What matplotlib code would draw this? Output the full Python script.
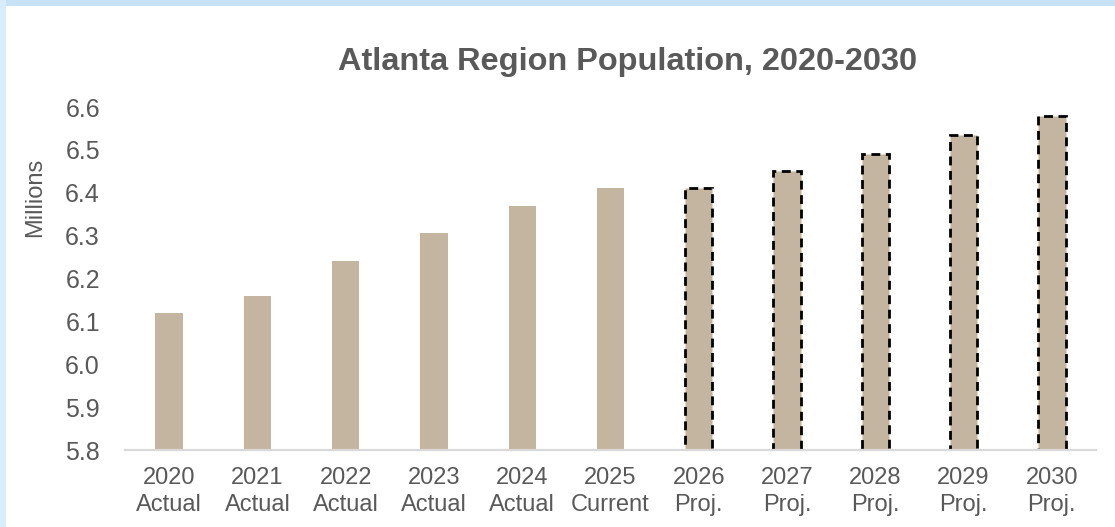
import matplotlib
matplotlib.use("Agg")
import matplotlib.pyplot as plt
from matplotlib.patches import Rectangle

# Population by year (millions)
years = ["2020", "2021", "2022", "2023", "2024", "2025",
         "2026", "2027", "2028", "2029", "2030"]
status = ["Actual", "Actual", "Actual", "Actual", "Actual", "Current",
          "Proj.", "Proj.", "Proj.", "Proj.", "Proj."]
population = [6.12, 6.16, 6.24, 6.305, 6.37, 6.41,
              6.41, 6.45, 6.49, 6.535, 6.58]
projected = [False] * 6 + [True] * 5
y_ticks = [5.8, 5.9, 6.0, 6.1, 6.2, 6.3, 6.4, 6.5, 6.6]

plt.rcParams["font.family"] = ["Liberation Sans", "DejaVu Sans"]
text_color = "#595959"
bar_color = "#C4B5A0"

fig = plt.figure(figsize=(11.15, 5.27), dpi=100)
fig.patch.set_facecolor("white")

# light blue frame along the top and left edges
fig.patches.append(Rectangle((0, 1 - 6 / 527), 1, 6 / 527, transform=fig.transFigure,
                             facecolor="#C7E2F4", edgecolor="none", zorder=0))
fig.patches.append(Rectangle((0, 0), 6 / 1115, 1, transform=fig.transFigure,
                             facecolor="#D8ECF9", edgecolor="none", zorder=0))

ax = fig.add_axes([125 / 1115, 1 - 450 / 527, (1096 - 125) / 1115, (450 - 107) / 527])

x = list(range(len(years)))
for xi, val, proj in zip(x, population, projected):
    bottom = y_ticks[0]
    if proj:
        ax.bar(xi, val - bottom, bottom=bottom, width=0.31, color=bar_color,
               edgecolor="black", linewidth=2.0, linestyle=(0, (3.2, 2.0)),
               zorder=2)
    else:
        ax.bar(xi, val - bottom, bottom=bottom, width=0.31, color=bar_color,
               edgecolor="none", zorder=2)

ax.set_xlim(-0.5, len(years) - 0.5)
ax.set_ylim(y_ticks[0], y_ticks[-1])
ax.set_yticks(y_ticks)
ax.set_yticklabels([f"{v:.1f}" for v in y_ticks])
ax.set_xticks(x)
ax.set_xticklabels([f"{y}\n{s}" for y, s in zip(years, status)], linespacing=1.3)

ax.tick_params(axis="y", length=0, pad=18, labelsize=18, labelcolor=text_color)
ax.tick_params(axis="x", length=0, pad=12, labelsize=17, labelcolor=text_color)

for side in ("top", "right", "left"):
    ax.spines[side].set_visible(False)
ax.spines["bottom"].set_color("#D9D9D9")
ax.spines["bottom"].set_linewidth(1.6)
ax.spines["bottom"].set_zorder(3)

fig.text(35 / 1115, 1 - 197 / 527, "Millions", rotation=90, ha="center", va="center",
         fontsize=17, color=text_color)
fig.text(628 / 1115, 1 - 62 / 527, "Atlanta Region Population, 2020-2030",
         ha="center", va="center", fontsize=23.4, fontweight="bold", color=text_color)

fig.savefig("out.png", dpi=100)
